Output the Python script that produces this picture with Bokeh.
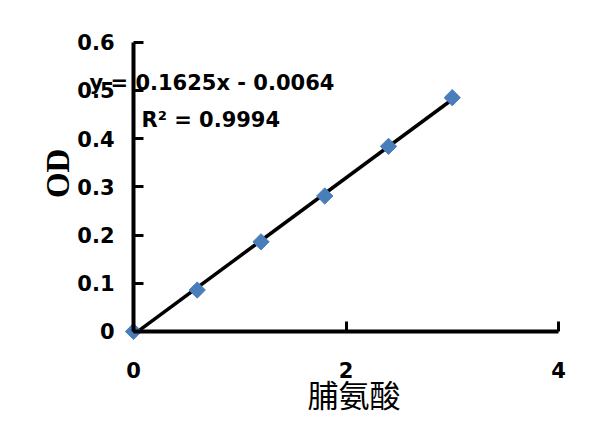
import math
from bokeh.plotting import figure
from bokeh.models import Range1d, FixedTicker, Label, LinearAxis
from bokeh.embed import file_html
from bokeh.resources import INLINE

# ---- data ----
x_vals = [0, 0.6, 1.2, 1.8, 2.4, 3.0]
od_vals = [0.0, 0.086, 0.186, 0.281, 0.384, 0.485]
slope = 0.1625
intercept = -0.0064
eq_text = "y = 0.1625x - 0.0064"
r2_text = "R\u00b2 = 0.9994"
x_ticks = [0, 2, 4]
x_tick_labels = ["0", "2", "4"]
y_ticks = [0, 0.1, 0.2, 0.3, 0.4, 0.5, 0.6]
y_tick_labels = ["0", "0.1", "0.2", "0.3", "0.4", "0.5", "0.6"]
x_title = "脯氨酸"
y_title = "OD"

p = figure(width=601, height=429, output_backend="svg", toolbar_location=None,
           x_range=Range1d(-1.2518, 4.4047), y_range=Range1d(-0.2033, 0.6865),
           x_axis_location=None, y_axis_location=None,
           min_border=0)
p.grid.visible = False
p.outline_line_color = None
p.background_fill_color = "white"
p.border_fill_color = "white"

tick_font = "DejaVu Sans"

xaxis = LinearAxis(fixed_location=0, bounds=(x_ticks[0], x_ticks[-1]),
                   ticker=FixedTicker(ticks=x_ticks),
                   major_label_overrides=dict(zip(x_ticks, x_tick_labels)))
yaxis = LinearAxis(fixed_location=0, bounds=(y_ticks[0], y_ticks[-1]),
                   ticker=FixedTicker(ticks=y_ticks),
                   major_label_overrides=dict(zip(y_ticks, y_tick_labels)))
for ax in (xaxis, yaxis):
    ax.axis_line_color = "black"
    ax.axis_line_width = 4
    ax.major_tick_line_color = "black"
    ax.major_tick_line_width = 3
    ax.major_tick_in = 10
    ax.major_tick_out = 0
    ax.minor_tick_line_color = None
    ax.major_label_text_font = tick_font
    ax.major_label_text_font_style = "bold"
    ax.major_label_text_font_size = "21px"
    ax.major_label_text_color = "black"
xaxis.major_label_standoff = 31
yaxis.major_label_standoff = 19
p.add_layout(xaxis, "below")
p.add_layout(yaxis, "left")

# trendline
x_line = [min(x_vals), max(x_vals)]
y_line = [slope * xv + intercept for xv in x_line]
p.line(x_line, y_line, line_color="black", line_width=3.5)

# data points (diamonds)
p.scatter(x_vals, od_vals, marker="square", size=11.5, angle=math.pi / 4,
          fill_color="#4A7EBB", line_color="#4A7EBB")

# equation labels
p.add_layout(Label(x=-0.414, y=0.5149, text=eq_text, text_font=tick_font,
                   text_font_style="bold", text_font_size="21px", text_color="black",
                   text_baseline="alphabetic"))
p.add_layout(Label(x=0.075, y=0.438, text=r2_text, text_font=tick_font,
                   text_font_style="bold", text_font_size="21px", text_color="black",
                   text_baseline="alphabetic"))

# axis titles
p.add_layout(Label(x=-0.711, y=0.328, text=y_title, angle=math.pi / 2,
                   text_font="Liberation Serif", text_font_style="bold",
                   text_font_size="33px", text_align="center", text_baseline="middle",
                   text_color="black"))
p.add_layout(Label(x=2.075, y=-0.1287, text=x_title,
                   text_font="Noto Sans CJK SC", text_font_size="31px",
                   text_align="center", text_baseline="middle", text_color="black"))

open("out.html", "w").write(file_html(p, INLINE))
